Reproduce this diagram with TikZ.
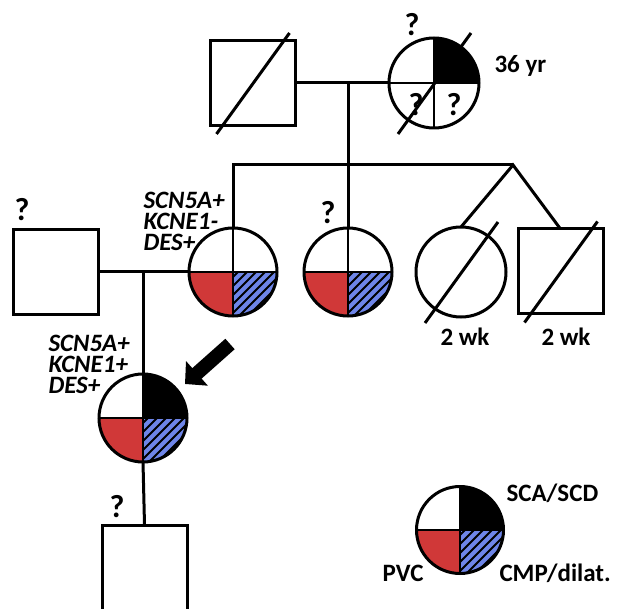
\documentclass[tikz,border=0pt]{standalone}
\usepackage{fontspec}
\setmainfont{Carlito}
\usetikzlibrary{arrows.meta,positioning}
\definecolor{pvcred}{HTML}{D03838}
\definecolor{cmpblue}{HTML}{6E85E8}

\begin{document}
\begin{tikzpicture}[x=1pt,y=1pt,line width=3pt,
  every node/.style={inner sep=0pt,font=\bfseries\fontsize{25}{21}\selectfont},
  male/.style={draw,rectangle,minimum size=85pt,inner sep=0pt,outer sep=0pt},
  female/.style={draw,circle,minimum size=88pt,inner sep=0pt,outer sep=0pt},
  gene/.style={align=left,font=\bfseries\itshape\fontsize{25}{21}\selectfont},
  unk/.style={font=\bfseries\fontsize{32}{32}\selectfont},
  quads/.style n args={4}{path picture={
    \begin{scope}[shift={(path picture bounding box.center)}]
    \fill[#1] (0,0) rectangle (50,50);
    \fill[#2] (0,0) rectangle (-50,-50);
    \fill[#3] (0,0) rectangle (50,-50);
    \begin{scope}
    \clip (0,0) rectangle (50,-50);
    \foreach \k in {-54,-45,...,54} \draw[draw=#4,line width=2pt] (\k,-50) -- ++(50,50);
    \end{scope}
    \draw[line width=2.5pt] (0,-50) -- (0,50) (-50,0) -- (50,0);
    \end{scope}}},
  slashln/.style={line width=3pt},
  bigarr/.style={-{Triangle[width=32pt,length=16pt]},line width=14pt}]
\useasboundingbox (0,0) rectangle (620,608);
% generation I
\node[male] (gf) at (252.5,525) {};
\node[female,minimum size=90pt,quads={black}{white}{white}{none}] (gm) at (434,525) {};
% generation II
\node[male] (hus) at (56,336) {};
\node[female,quads={white}{pvcred}{cmpblue}{black}] (m1) at (233,336) {};
\node[female,quads={white}{pvcred}{cmpblue}{black}] (m2) at (348,336) {};
\node[female,minimum size=90pt] (tw1) at (461,336) {};
\node[male] (tw2) at (560.5,336.5) {};
% generation III and IV
\node[female,quads={black}{pvcred}{cmpblue}{black}] (pro) at (143,190) {};
\node[male] (son) at (144.5,40.5) {};
% lines of descent
\coordinate (twin) at (513,443);
\draw (gf.east) -- (gm.west);
\draw (m2.north) -- (m2.north |- gf.east);
\draw (m1.north) |- (twin);
\draw (tw1.north) -- (twin) -- (tw2.north);
\draw (hus.east) -- (m1.west);
\draw (pro.north) -- (pro.north |- hus.east);
\draw (pro.south) -- (son.north);
\foreach \p in {gf,gm,tw1,tw2}
  \draw[slashln] ([shift={(-36,-51)}]\p.center) -- ([shift={(37,50)}]\p.center);
% labels
\node[unk] (gmq) at (412,583) {?};
\node[unk] (gmq2) at (416,503) {?};
\node[unk] (gmq3) at (454,503) {?};
\node[anchor=west] (age) at (493,542) {36 yr};
\node[unk] (husq) at (22,398) {?};
\node[gene,anchor=west] (m1gene) at (142,387) {SCN5A+\\KCNE1-\\DES+};
\node[unk] (m2q) at (328,395) {?};
\node (tw1age) at (465,271) {2 wk};
\node (tw2age) at (566,271) {2 wk};
\node[gene,anchor=west] (progene) at (47,244) {SCN5A+\\KCNE1+\\DES+};
\node[unk] (sonq) at (117,101) {?};
\coordinate (arrtail) at (230,264);
\coordinate (arrtip) at (185,224);
\draw[bigarr] (arrtail) -- (arrtip);
% legend
\node[female,minimum size=87pt,quads={black}{pvcred}{cmpblue}{black}] (leg) at (460,78) {};
\node[anchor=west] (legsca) at (505,115) {SCA/SCD};
\node[anchor=west] (legcmp) at (498,35) {CMP/dilat.};
\node[anchor=east] (legpvc) at (425,35) {PVC};
\end{tikzpicture}
\end{document}
